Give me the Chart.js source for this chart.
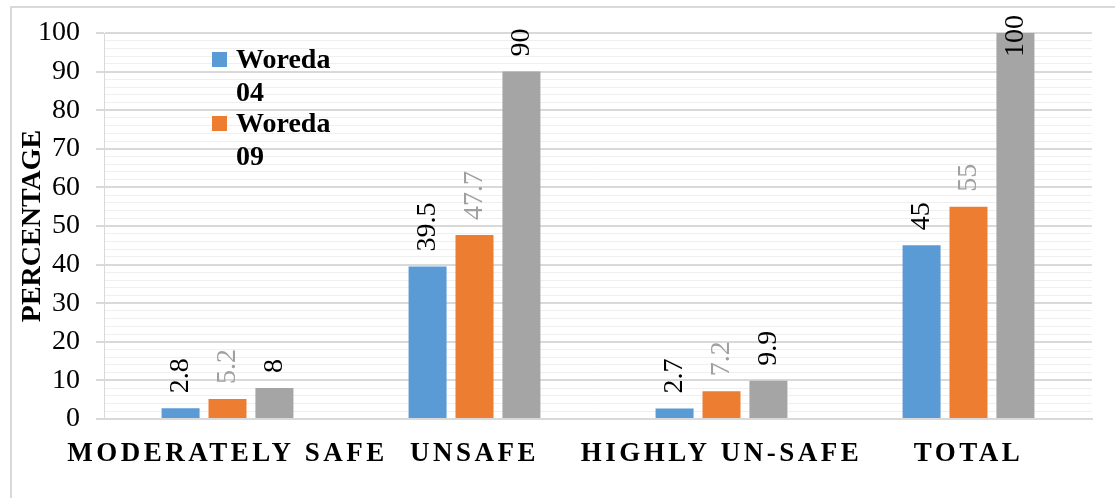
<!DOCTYPE html>
<html>
<head>
<meta charset="utf-8">
<title>Water safety by woreda</title>
<script src="https://cdn.jsdelivr.net/npm/chart.js@4.4.1/dist/chart.umd.min.js"></script>
<style>
  html, body { margin: 0; padding: 0; background: #fff; overflow: hidden; }
  #wrap { position: relative; width: 1115px; height: 498px; }
  canvas { display: block; }
</style>
</head>
<body>
<div id="wrap"><canvas id="chart" width="1115" height="498"></canvas></div>
<script>
// Categories and series values (percent)
const categories = ['MODERATELY SAFE', 'UNSAFE', 'HIGHLY UN-SAFE', 'TOTAL'];
const woreda04 = [2.8, 39.5, 2.7, 45];
const woreda09 = [5.2, 47.7, 7.2, 55];
const totals = [8, 90, 9.9, 100];
const seriesNames = ['Woreda 04', 'Woreda 09', 'Total'];
const legendSeries = [0, 1];

const SERIF = "'Liberation Serif', 'Times New Roman', Times, serif";
Chart.defaults.font.family = SERIF;

// Light frame around the whole chart
const frame = {
  id: 'frame',
  beforeDraw(chart) {
    const ctx = chart.ctx;
    ctx.letterSpacing = '0px';
    ctx.save();
    ctx.fillStyle = '#fff';
    ctx.fillRect(0, 0, chart.width, chart.height);
    ctx.strokeStyle = '#d9d9d9';
    ctx.lineWidth = 2;
    ctx.strokeRect(11, 7, chart.width + 100, chart.height + 100);
    ctx.restore();
  },
  afterDraw(chart) {
    chart.ctx.letterSpacing = '0px';
  }
};

// Rotated value labels above each bar, the in-chart legend, then
// letter spacing for the category labels that are drawn afterwards.
const valueLabels = {
  id: 'valueLabels',
  afterDatasetsDraw(chart) {
    const ctx = chart.ctx;
    const area = chart.chartArea;
    const limit = area.top - 18;
    ctx.letterSpacing = '0px';
    chart.data.datasets.forEach((ds, di) => {
      const meta = chart.getDatasetMeta(di);
      meta.data.forEach((bar, i) => {
        const text = String(ds.data[i]);
        ctx.save();
        ctx.font = '28px ' + SERIF;
        const w = ctx.measureText(text).width;
        let start = bar.y - 15;
        if (start - w < limit) start = limit + w;
        ctx.translate(bar.x, start);
        ctx.rotate(-Math.PI / 2);
        ctx.textAlign = 'left';
        ctx.textBaseline = 'middle';
        ctx.fillStyle = ds.labelColor;
        ctx.fillText(text, 0, 0);
        ctx.restore();
      });
    });

    // legend
    ctx.save();
    ctx.font = 'bold 28px ' + SERIF;
    ctx.textAlign = 'left';
    ctx.textBaseline = 'alphabetic';
    const lx = area.left + 108;
    let ly = area.top + 14;
    legendSeries.forEach((di) => {
      const ds = chart.data.datasets[di];
      ctx.fillStyle = ds.backgroundColor;
      ctx.fillRect(lx, ly + 5, 15, 15);
      ctx.fillStyle = '#000';
      ds.label.split(' ').forEach((line, k) => {
        ctx.fillText(line, lx + 24, ly + 21 + k * 33);
      });
      ly += 64;
    });
    ctx.restore();

    ctx.letterSpacing = '3.5px';
  }
};

new Chart(document.getElementById('chart'), {
  type: 'bar',
  data: {
    labels: categories,
    datasets: [
      { label: seriesNames[0], data: woreda04, backgroundColor: '#5b9bd5', labelColor: '#000' },
      { label: seriesNames[1], data: woreda09, backgroundColor: '#ed7d31', labelColor: '#a0a0a0' },
      { label: seriesNames[2], data: totals, backgroundColor: '#a5a5a5', labelColor: '#000' }
    ]
  },
  options: {
    responsive: false,
    animation: false,
    devicePixelRatio: 1,
    categoryPercentage: 0.57,
    barPercentage: 0.81,
    layout: { padding: { top: 33, right: 23, bottom: 0, left: 0 } },
    plugins: {
      legend: { display: false },
      tooltip: { enabled: false }
    },
    scales: {
      x: {
        grid: { display: false },
        border: { display: true, color: '#d9d9d9', width: 2 },
        ticks: {
          z: 1,
          padding: 11,
          autoSkip: false,
          maxRotation: 0,
          minRotation: 0,
          color: '#000',
          font: { size: 27, weight: 'bold' }
        },
        afterFit(scale) { scale.height = 79; }
      },
      y: {
        min: 0,
        max: 100,
        afterFit(scale) { scale.width = 104; },
        title: {
          display: true,
          text: 'PERCENTAGE',
          color: '#000',
          font: { size: 28, weight: 'bold' },
          padding: { top: 16, bottom: 0 }
        },
        ticks: {
          stepSize: 2,
          autoSkip: false,
          padding: 16,
          color: '#000',
          font: { size: 28 },
          callback: (v) => (v % 10 === 0 ? v : '')
        },
        grid: {
          color: (c) => (c.tick && c.tick.value % 10 === 0 ? '#d9d9d9' : '#efefef'),
          lineWidth: (c) => (c.tick && c.tick.value % 10 === 0 ? 2 : 1),
          tickLength: 8,
          tickColor: (c) => (c.tick && c.tick.value % 10 === 0 ? '#d9d9d9' : 'rgba(0,0,0,0)')
        },
        border: { display: true, color: '#d9d9d9', width: 1 }
      }
    }
  },
  plugins: [frame, valueLabels]
});
</script>
</body>
</html>
